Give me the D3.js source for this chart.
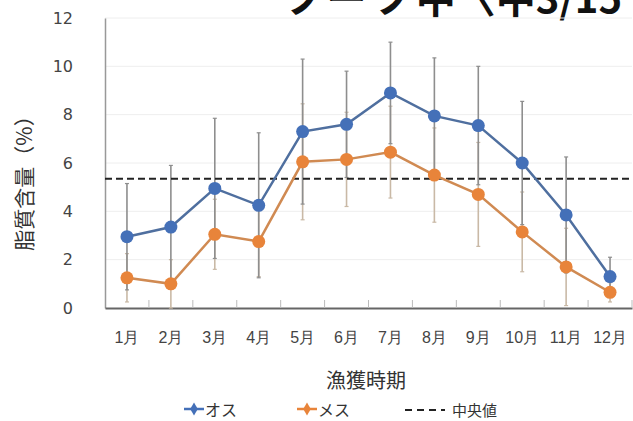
<!DOCTYPE html>
<html>
<head>
<meta charset="utf-8">
<script src="https://cdn.jsdelivr.net/npm/d3@7"></script>
<style>
  body { margin: 0; background: #fff; }
  svg { display: block; font-family: "Noto Sans CJK JP", "Noto Sans", sans-serif; }
</style>
</head>
<body>
<div id="chart"></div>
<script>
var months = ["1月","2月","3月","4月","5月","6月","7月","8月","9月","10月","11月","12月"];
var osu    = [2.95, 3.35, 4.95, 4.25, 7.3, 7.6, 8.9, 7.95, 7.55, 6.0, 3.85, 1.3];
var osuSd  = [2.2, 2.55, 2.9, 3.0, 3.0, 2.2, 2.1, 2.4, 2.45, 2.55, 2.4, 0.8];
var mesu   = [1.25, 1.0, 3.05, 2.75, 6.05, 6.15, 6.45, 5.5, 4.7, 3.15, 1.7, 0.65];
var mesuSd = [1.0, 1.0, 1.45, 1.45, 2.4, 1.95, 1.9, 1.95, 2.15, 1.65, 1.6, 0.4];
var median = 5.35;
var yTicks = [0, 2, 4, 6, 8, 10, 12];

var W = 633, H = 421;
var svg = d3.select("#chart").append("svg").attr("width", W).attr("height", H);

var x = d3.scaleBand().domain(months).range([105, 632]).padding(0);
var y = d3.scaleLinear().domain([0, 12]).range([308, 18]);
var cx = function(i){ return x(months[i]) + x.bandwidth() / 2; };

// clipped title fragment at the very top (cut off in the original too)
svg.append("text")
  .attr("x", 622).attr("y", 13)
  .attr("text-anchor", "end")
  .attr("font-size", 40).attr("font-weight", "bold")
  .attr("fill", "#111")
  .text("ノー ノ中〈中3/15");

// faint grid
svg.append("g").selectAll("line").data(yTicks.slice(1)).enter().append("line")
  .attr("x1", 105).attr("x2", 632)
  .attr("y1", function(d){ return y(d); }).attr("y2", function(d){ return y(d); })
  .attr("stroke", "#eeeeee").attr("stroke-width", 1);

// y axis
var yAxis = svg.append("g").attr("transform", "translate(105,0)")
  .call(d3.axisLeft(y).tickValues(yTicks).tickSize(0).tickPadding(32));
yAxis.select(".domain").attr("stroke", "#999").attr("stroke-width", 1.5);
yAxis.selectAll("text").attr("font-size", 16).attr("fill", "#444")
  .attr("font-family", "'DejaVu Sans', sans-serif");

// x axis
var xAxis = svg.append("g").attr("transform", "translate(0,308)")
  .call(d3.axisBottom(x).tickSize(0).tickPadding(24));
xAxis.select(".domain").attr("stroke", "#666").attr("stroke-width", 2);
xAxis.selectAll("text").attr("font-size", 16).attr("fill", "#444");

// small inside ticks at band edges
svg.append("g").selectAll("line").data(months).enter().append("line")
  .attr("x1", function(d){ return x(d) + x.bandwidth(); })
  .attr("x2", function(d){ return x(d) + x.bandwidth(); })
  .attr("y1", 308).attr("y2", 300)
  .attr("stroke", "#bbb").attr("stroke-width", 1);

// error bars
function errBars(vals, sds, col) {
  var g = svg.append("g");
  vals.forEach(function(v, i){
    var lo = Math.max(0, v - sds[i]), hi = v + sds[i];
    g.append("line").attr("x1", cx(i)).attr("x2", cx(i))
      .attr("y1", y(lo)).attr("y2", y(hi))
      .attr("stroke", col).attr("stroke-width", 1.6);
    [lo, hi].forEach(function(e){
      g.append("line").attr("x1", cx(i) - 2).attr("x2", cx(i) + 2)
        .attr("y1", y(e)).attr("y2", y(e))
        .attr("stroke", col).attr("stroke-width", 1.2);
    });
  });
}
errBars(mesu, mesuSd, "#c9b9a6");
errBars(osu, osuSd, "#8e8e8e");

// median line
svg.append("line")
  .attr("x1", 105).attr("x2", 632)
  .attr("y1", y(median)).attr("y2", y(median))
  .attr("stroke", "#222").attr("stroke-width", 2)
  .attr("stroke-dasharray", "7,4");

// series
var line = d3.line().x(function(d, i){ return cx(i); }).y(function(d){ return y(d); });
function series(vals, lineCol, dotCol) {
  svg.append("path").datum(vals)
    .attr("d", line).attr("fill", "none")
    .attr("stroke", lineCol).attr("stroke-width", 2.5);
  svg.append("g").selectAll("circle").data(vals).enter().append("circle")
    .attr("cx", function(d, i){ return cx(i); })
    .attr("cy", function(d){ return y(d); })
    .attr("r", 6.5).attr("fill", dotCol);
}
series(mesu, "#d08a52", "#e8843a");
series(osu, "#4f6f9f", "#4470b8");

// axis titles
svg.append("text")
  .attr("transform", "translate(32,178) rotate(-90)")
  .attr("text-anchor", "middle")
  .attr("font-size", 21).attr("fill", "#333")
  .text("脂質含量（%）");
svg.append("text")
  .attr("x", 366).attr("y", 388)
  .attr("text-anchor", "middle")
  .attr("font-size", 20).attr("fill", "#333")
  .text("漁獲時期");

// legend
var lg = svg.append("g").attr("font-size", 16).attr("fill", "#333");
function legendItem(x0, col, label) {
  lg.append("line").attr("x1", x0).attr("x2", x0 + 20).attr("y1", 409).attr("y2", 409)
    .attr("stroke", col).attr("stroke-width", 2.5);
  lg.append("path").attr("d", d3.symbol(d3.symbolDiamond, 50)())
    .attr("transform", "translate(" + (x0 + 10) + ",409)").attr("fill", col);
  lg.append("text").attr("x", x0 + 21).attr("y", 416).text(label);
}
legendItem(184, "#4470b8", "オス");
legendItem(297, "#e8843a", "メス");
lg.append("line").attr("x1", 405).attr("x2", 445).attr("y1", 410).attr("y2", 410)
  .attr("stroke", "#222").attr("stroke-width", 2).attr("stroke-dasharray", "7,5");
lg.append("text").attr("x", 452).attr("y", 416).attr("font-size", 15).text("中央値");
</script>
</body>
</html>
